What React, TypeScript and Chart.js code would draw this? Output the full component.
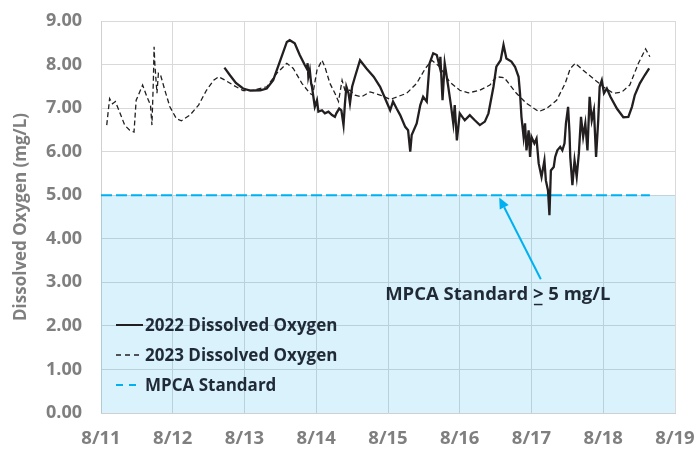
import React, { useEffect, useRef } from "react";
import { Chart, registerables } from "chart.js";

Chart.register(...registerables);

// ---- Data ----
const xTickLabels = ["8/11", "8/12", "8/13", "8/14", "8/15", "8/16", "8/17", "8/18", "8/19"];

const days2022 = [
  12.72, 12.80, 12.88, 12.98, 13.08, 13.22, 13.31, 13.40, 13.50, 13.59, 13.63, 13.70, 13.77, 13.84,
  13.87, 13.88, 13.89, 13.91, 13.93, 13.94, 13.96, 13.98, 14.01, 14.03, 14.08, 14.12, 14.17, 14.22,
  14.26, 14.28, 14.32, 14.35, 14.38, 14.40, 14.42, 14.45, 14.47, 14.50, 14.54, 14.61, 14.70, 14.80,
  14.89, 14.96, 15.03, 15.07, 15.12, 15.17, 15.24, 15.28, 15.31, 15.33, 15.40, 15.45, 15.49, 15.54,
  15.58, 15.63, 15.68, 15.72, 15.73, 15.76, 15.79, 15.84, 15.88, 15.91, 15.93, 15.96, 16.00, 16.07,
  16.14, 16.21, 16.28, 16.35, 16.40, 16.47, 16.51, 16.57, 16.61, 16.65, 16.72, 16.77, 16.82, 16.84,
  16.86, 16.89, 16.91, 16.93, 16.96, 16.98, 17.00, 17.04, 17.07, 17.10, 17.14, 17.18, 17.20, 17.23,
  17.25, 17.27, 17.31, 17.33, 17.36, 17.40, 17.43, 17.46, 17.48, 17.51, 17.53, 17.54, 17.57, 17.60,
  17.63, 17.66, 17.69, 17.72, 17.75, 17.78, 17.81, 17.84, 17.87, 17.90, 17.93, 17.95, 17.98, 18.01,
  18.05, 18.10, 18.19, 18.28, 18.35, 18.40, 18.44, 18.51, 18.58, 18.64,
];
const do2022 = [
  7.93, 7.75, 7.58, 7.45, 7.40, 7.41, 7.45, 7.64, 8.10, 8.52, 8.56, 8.49, 8.22, 7.99,
  7.90, 8.03, 7.72, 7.87, 7.55, 7.49, 7.26, 7.03, 7.18, 6.92, 6.95, 6.88, 6.92, 6.84,
  6.80, 6.88, 6.99, 6.95, 6.61, 7.11, 7.49, 7.34, 7.11, 7.49, 7.72, 8.10, 7.91, 7.72,
  7.49, 7.22, 6.95, 7.15, 6.99, 6.84, 6.57, 6.49, 6.00, 6.38, 6.65, 7.07, 7.26, 7.15,
  8.03, 8.26, 8.22, 7.95, 8.18, 7.18, 8.03, 7.49, 7.03, 6.65, 7.07, 6.26, 6.88, 6.72,
  6.84, 6.72, 6.61, 6.69, 6.88, 7.49, 7.95, 8.10, 8.45, 8.14, 8.07, 7.95, 7.72, 7.34,
  6.80, 6.34, 6.65, 6.03, 6.49, 5.88, 6.34, 6.19, 6.30, 5.73, 5.42, 5.80, 5.34, 5.11,
  4.54, 5.57, 5.65, 5.88, 6.03, 6.11, 6.03, 6.19, 6.65, 7.03, 6.42, 5.88, 5.23, 5.80,
  5.42, 5.96, 6.80, 6.34, 6.65, 6.03, 7.26, 6.72, 6.95, 5.88, 6.72, 7.49, 7.64, 7.34,
  7.45, 7.26, 6.99, 6.79, 6.80, 7.03, 7.30, 7.57, 7.76, 7.91,
];

const days2023 = [
  11.08, 11.12, 11.16, 11.20, 11.25, 11.33, 11.40, 11.46, 11.49, 11.58, 11.64, 11.69, 11.71, 11.73,
  11.74, 11.75, 11.78, 11.80, 11.83, 11.89, 11.96, 12.05, 12.12, 12.24, 12.36, 12.47, 12.57, 12.64,
  12.73, 12.84, 12.98, 13.12, 13.31, 13.45, 13.59, 13.68, 13.80, 13.91, 13.95, 14.01, 14.08, 14.12,
  14.19, 14.26, 14.31, 14.36, 14.40, 14.47, 14.54, 14.63, 14.75, 14.89, 15.03, 15.26, 15.40, 15.52,
  15.61, 15.72, 15.86, 16.00, 16.12, 16.28, 16.42, 16.51, 16.62, 16.79, 16.93, 17.10, 17.21, 17.35,
  17.47, 17.54, 17.61, 17.72, 17.86, 18.00, 18.14, 18.26, 18.37, 18.49, 18.59, 18.65,
];
const do2023 = [
  6.61, 7.22, 7.10, 7.15, 6.95, 6.61, 6.49, 6.45, 7.18, 7.53, 7.26, 7.07, 6.61, 7.64,
  8.41, 8.03, 7.34, 7.80, 7.76, 7.41, 7.03, 6.76, 6.71, 6.84, 7.07, 7.41, 7.64, 7.72,
  7.64, 7.53, 7.40, 7.41, 7.49, 7.80, 8.03, 7.91, 7.57, 7.34, 7.30, 7.87, 8.10, 7.95,
  7.57, 7.34, 7.15, 7.64, 7.41, 7.41, 7.30, 7.26, 7.37, 7.30, 7.20, 7.34, 7.57, 7.91,
  8.10, 7.95, 7.60, 7.41, 7.35, 7.41, 7.53, 7.72, 7.70, 7.34, 7.11, 6.92, 6.99, 7.18,
  7.57, 7.91, 8.03, 7.87, 7.68, 7.49, 7.34, 7.37, 7.53, 8.03, 8.36, 8.18,
];

const mpcaDays = [11, 18.65];
const mpcaValues = [5, 5];
const zoneDays = [11, 19];
const zoneValues = [5, 5];

const legendLabels = ["2022 Dissolved Oxygen", "2023 Dissolved Oxygen", "MPCA Standard"];
const yTitle = "Dissolved Oxygen (mg/L)";
const noteBefore = "MPCA Standard ";
const noteSymbol = ">";
const noteAfter = " 5 mg/L";
const noteAnchor = { x: 16.53, y: 2.72 };
const arrowTail = { x: 17.13, y: 3.07 };
const arrowHead = { x: 16.55, y: 4.95 };

const FONT = '"Open Sans", sans-serif';
const BLUE = "#00B0F0";
const DARK = "#1f2a36";
const GRAY = "#7f7f7f";

const pts = (xs: number[], ys: number[]) => xs.map((x, i) => ({ x, y: ys[i] }));

const overlayPlugin = {
  id: "overlay",
  afterDraw(chart: any) {
    const { ctx, chartArea, scales } = chart;
    const xs = scales.x;
    const ys = scales.y;
    ctx.save();
    // Legend (inside plot, lower-left)
    const rows = [304, 334, 364];
    const sx0 = chartArea.left + 15;
    const sx1 = chartArea.left + 42;
    ctx.font = `bold 17px ${FONT}`;
    ctx.textBaseline = "middle";
    ctx.textAlign = "left";
    rows.forEach((dy, i) => {
      const y = chartArea.top + dy;
      ctx.beginPath();
      if (i === 0) {
        ctx.setLineDash([]);
        ctx.strokeStyle = "#231f20";
        ctx.lineWidth = 2;
      } else if (i === 1) {
        ctx.setLineDash([5, 4]);
        ctx.strokeStyle = "#231f20";
        ctx.lineWidth = 1.3;
      } else {
        ctx.setLineDash([7, 6]);
        ctx.strokeStyle = BLUE;
        ctx.lineWidth = 2;
      }
      ctx.moveTo(sx0, y);
      ctx.lineTo(i === 2 ? sx1 - 6 : sx1, y);
      ctx.stroke();
      ctx.setLineDash([]);
      ctx.fillStyle = DARK;
      ctx.fillText(legendLabels[i], sx1 + 2, y + 1);
    });

    // Arrow annotation
    const tx = xs.getPixelForValue(arrowTail.x);
    const ty = ys.getPixelForValue(arrowTail.y);
    const hx = xs.getPixelForValue(arrowHead.x);
    const hy = ys.getPixelForValue(arrowHead.y);
    const ang = Math.atan2(hy - ty, hx - tx);
    const headLen = 11;
    const headW = 5;
    const bx = hx - headLen * Math.cos(ang);
    const by = hy - headLen * Math.sin(ang);
    ctx.strokeStyle = BLUE;
    ctx.fillStyle = BLUE;
    ctx.lineWidth = 2;
    ctx.beginPath();
    ctx.moveTo(tx, ty);
    ctx.lineTo(bx, by);
    ctx.stroke();
    ctx.beginPath();
    ctx.moveTo(hx, hy);
    ctx.lineTo(bx + headW * Math.sin(ang), by - headW * Math.cos(ang));
    ctx.lineTo(bx - headW * Math.sin(ang), by + headW * Math.cos(ang));
    ctx.closePath();
    ctx.fill();

    // Note text
    ctx.font = `bold 18.5px ${FONT}`;
    ctx.fillStyle = DARK;
    const w1 = ctx.measureText(noteBefore).width;
    const w2 = ctx.measureText(noteSymbol).width;
    const w3 = ctx.measureText(noteAfter).width;
    const total = w1 + w2 + w3;
    const cx = xs.getPixelForValue(noteAnchor.x);
    const cy = ys.getPixelForValue(noteAnchor.y);
    const x = cx - total / 2;
    ctx.textAlign = "left";
    ctx.textBaseline = "middle";
    ctx.fillText(noteBefore, x, cy);
    ctx.fillText(noteSymbol, x + w1, cy);
    ctx.fillText(noteAfter, x + w1 + w2, cy);
    ctx.strokeStyle = DARK;
    ctx.lineWidth = 1.5;
    ctx.beginPath();
    ctx.moveTo(x + w1 + 1, cy + 10);
    ctx.lineTo(x + w1 + w2 - 1, cy + 10);
    ctx.stroke();
    ctx.restore();
  },
};

export default function App() {
  const ref = useRef<HTMLCanvasElement | null>(null);

  useEffect(() => {
    document.body.style.margin = "0";
    if (!ref.current) return;
    const chart = new Chart(ref.current, {
      type: "line",
      data: {
        datasets: [
          {
            label: "zone",
            data: pts(zoneDays, zoneValues),
            borderWidth: 0,
            borderColor: "rgba(0,0,0,0)",
            backgroundColor: "rgba(0,165,235,0.15)",
            fill: "origin",
            pointRadius: 0,
            order: 4,
          },
          {
            label: legendLabels[2],
            data: pts(mpcaDays, mpcaValues),
            borderColor: BLUE,
            borderWidth: 2,
            borderDash: [11, 4],
            pointRadius: 0,
            fill: false,
            order: 3,
          },
          {
            label: legendLabels[1],
            data: pts(days2023, do2023),
            borderColor: "#231f20",
            borderWidth: 1.3,
            borderDash: [5, 3],
            pointRadius: 0,
            fill: false,
            order: 2,
          },
          {
            label: legendLabels[0],
            data: pts(days2022, do2022),
            borderColor: "#231f20",
            borderWidth: 2.3,
            pointRadius: 0,
            fill: false,
            order: 1,
          },
        ],
      },
      options: {
        responsive: false,
        animation: false,
        devicePixelRatio: 1,
        layout: { padding: { top: 21, right: 21, left: 0, bottom: 0 } },
        plugins: { legend: { display: false }, tooltip: { enabled: false } },
        elements: { line: { tension: 0 } },
        scales: {
          x: {
            type: "linear",
            min: 11,
            max: 19,
            afterFit: (s: any) => {
              s.height = 40;
              s.paddingLeft = 0;
              s.paddingRight = 0;
            },
            afterBuildTicks: (s: any) => {
              s.ticks = xTickLabels.map((_, i) => ({ value: 11 + i }));
            },
            ticks: {
              autoSkip: false,
              maxRotation: 0,
              padding: 15,
              color: GRAY,
              font: { family: FONT, size: 18.5, weight: "bold" },
              callback: (v: any) => xTickLabels[Math.round(v) - 11],
            },
            grid: { color: "#d9d9d9", drawTicks: false, lineWidth: 1 },
            border: { color: "#d0d0d0" },
          },
          y: {
            min: 0,
            max: 9,
            afterFit: (s: any) => {
              s.width = 101;
              s.paddingTop = 0;
              s.paddingBottom = 0;
            },
            ticks: {
              stepSize: 1,
              padding: 19,
              color: GRAY,
              font: { family: FONT, size: 18, weight: "bold" },
              callback: (v: any) => Number(v).toFixed(2),
            },
            grid: { color: "#d9d9d9", drawTicks: false, lineWidth: 1 },
            border: { color: "#d0d0d0" },
            title: {
              display: true,
              text: yTitle,
              color: GRAY,
              font: { family: FONT, size: 17, weight: "bold" },
              padding: { top: 11, bottom: 0 },
            },
          },
        },
      },
      plugins: [overlayPlugin],
    } as any);
    return () => chart.destroy();
  }, []);

  return (
    <div style={{ width: 696, height: 453, position: "relative", background: "#fff" }}>
      <canvas ref={ref} width={696} height={453} style={{ width: 696, height: 453, display: "block" }} />
    </div>
  );
}
